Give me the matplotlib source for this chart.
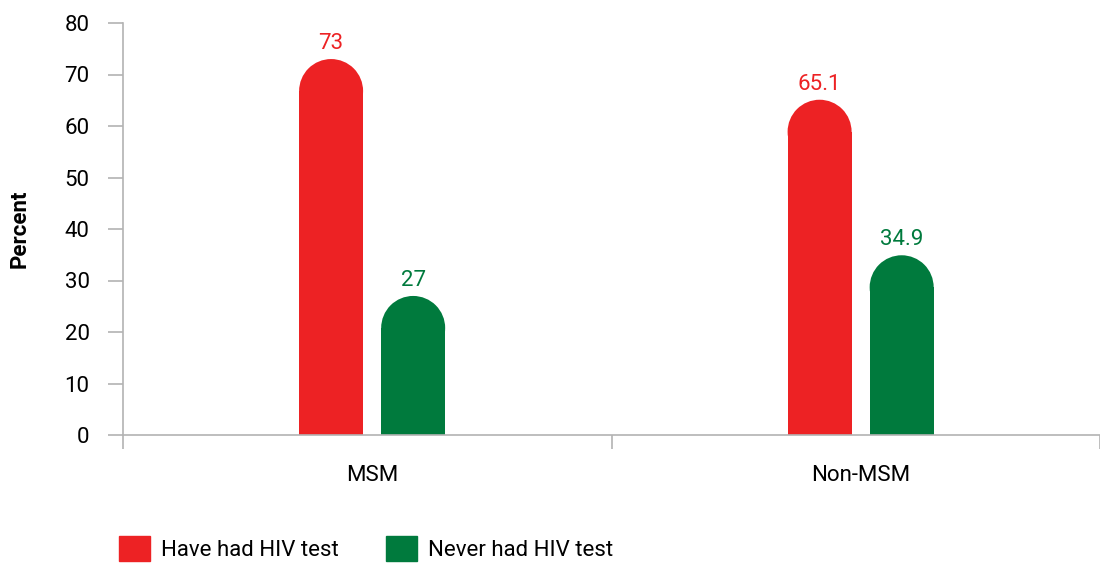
import numpy as np
import matplotlib
matplotlib.use("Agg")
import matplotlib.pyplot as plt
from matplotlib.patches import Ellipse, Patch

plt.rcParams['font.family'] = ['Roboto', 'DejaVu Sans']

# data
categories = ["MSM", "Non-MSM"]
series_names = ["Have had HIV test", "Never had HIV test"]
have_tested = [73, 65.1]
never_tested = [27, 34.9]
value_labels = [["73", "65.1"], ["27", "34.9"]]

colors = ["#ED2224", "#007A3D"]
axis_grey = "#B3B3B3"

fig = plt.figure(figsize=(11, 5.63), dpi=100)
ax = fig.add_axes([123 / 1100, 1 - 435 / 563, 977 / 1100, 412 / 563])

ax.set_xlim(0, 2)
ax.set_ylim(0, 80)

x = np.arange(len(categories)) + 0.51
bar_w = 0.131
gap = 0.037
offsets = [-(bar_w + gap) / 2, (bar_w + gap) / 2]

# pixel scale so the caps come out as half circles
fig.canvas.draw()
p0 = ax.transData.transform((0, 0))
p1 = ax.transData.transform((1, 1))
px_x = p1[0] - p0[0]
px_y = p1[1] - p0[1]
r_px = bar_w * px_x / 2
r_y = r_px / px_y

for vals, labels, off, col in zip([have_tested, never_tested], value_labels, offsets, colors):
    for xi, v, lab in zip(x, vals, labels):
        ax.bar(xi + off, v - r_y, width=bar_w, color=col, linewidth=0)
        ax.add_patch(Ellipse((xi + off, v - r_y), bar_w, 2 * r_y, color=col, linewidth=0))
        ax.text(xi + off, v + 1.0, lab, ha="center", va="bottom", color=col, fontsize=16)

for s in ["top", "right"]:
    ax.spines[s].set_visible(False)
ax.spines["left"].set_color(axis_grey)
ax.spines["bottom"].set_color(axis_grey)
ax.spines["left"].set_linewidth(1.2)
ax.spines["bottom"].set_linewidth(1.2)

ax.set_yticks(range(0, 81, 10))
ax.tick_params(axis="y", length=11, width=1.2, color=axis_grey, labelsize=16, pad=13)
ax.set_xticks([0, 1, 2])
ax.set_xticklabels([])
ax.tick_params(axis="x", length=10, width=1.2, color=axis_grey)
for xi, c in zip(x, categories):
    ax.text(xi, -5.8, c, ha="center", va="top", fontsize=16)

ax.set_ylabel("Percent", fontsize=16, fontweight="bold")
ax.yaxis.set_label_coords(-0.095, 0.5)

handles = [Patch(color=c) for c in colors]
fig.legend(handles, series_names, loc="lower left", bbox_to_anchor=(110 / 1100, -0.012),
           ncol=2, frameon=False, fontsize=16, handlelength=1.4, handleheight=1.3,
           handletextpad=0.5, columnspacing=2.1, borderaxespad=0)

fig.savefig("out.png", dpi=100)
